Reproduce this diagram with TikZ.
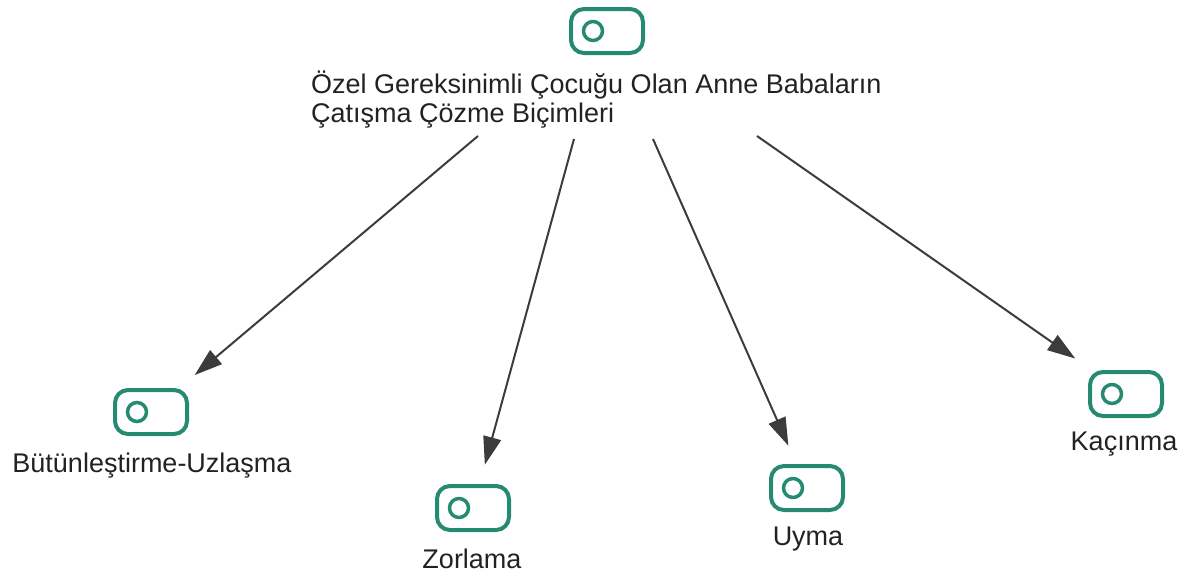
\documentclass[tikz,border=0pt]{standalone}
\usepackage{fontspec}
\setmainfont{Liberation Sans}
\usepackage{tikz}
\usetikzlibrary{arrows.meta}
\definecolor{ikonyesil}{RGB}{38,138,112}
\definecolor{oklinie}{RGB}{60,60,60}
\definecolor{yazi}{RGB}{34,34,34}

\begin{document}
\begin{tikzpicture}[x=1pt,y=-1pt,
		ikon/.style={draw=ikonyesil,line width=4pt,rounded corners=13pt,minimum width=72pt,minimum height=44pt,inner sep=0pt,
			path picture={\draw[ikonyesil,line width=3.5pt] ([xshift=22pt]path picture bounding box.west) circle (9.5pt);}},
		etiket/.style={text=yazi,font=\fontsize{27}{29}\selectfont,inner sep=0pt},
		ok/.style={draw=oklinie,line width=2pt,-{Triangle[length=28pt,width=18pt]},shorten >=20pt}]
		\useasboundingbox (0,0) rectangle (1187,579);
		
		\node[ikon] (ustikon) at (607,31) {};
		\node[etiket,align=left,anchor=base west] (ana) at (311,122) {Özel Gereksinimli Çocuğu Olan Anne Babaların\\Çatışma Çözme Biçimleri};
		
		\node[ikon] (butunlestirme) at (151,412) {};
		\node[etiket] (butunlestirmeyazi) at (152,466) {Bütünleştirme-Uzlaşma};
		\node[ikon] (zorlama) at (473,508) {};
		\node[etiket] (zorlamayazi) at (472,559) {Zorlama};
		\node[ikon] (uyma) at (807,488) {};
		\node[etiket] (uymayazi) at (808,539) {Uyma};
		\node[ikon] (kacinma) at (1126,394) {};
		\node[etiket] (kacinmayazi) at (1124,444) {Kaçınma};
		
		% oklarin baslangic noktalari
		\coordinate (bas1) at (478,136);
		\coordinate (bas2) at (574,139);
		\coordinate (bas3) at (653,139);
		\coordinate (bas4) at (757,136);
		
		\draw[ok] (bas1) -- (butunlestirme);
		\draw[ok] (bas2) -- (zorlama);
		\draw[ok] (bas3) -- (uyma);
		\draw[ok] (bas4) -- (kacinma);
\end{tikzpicture}
\end{document}
